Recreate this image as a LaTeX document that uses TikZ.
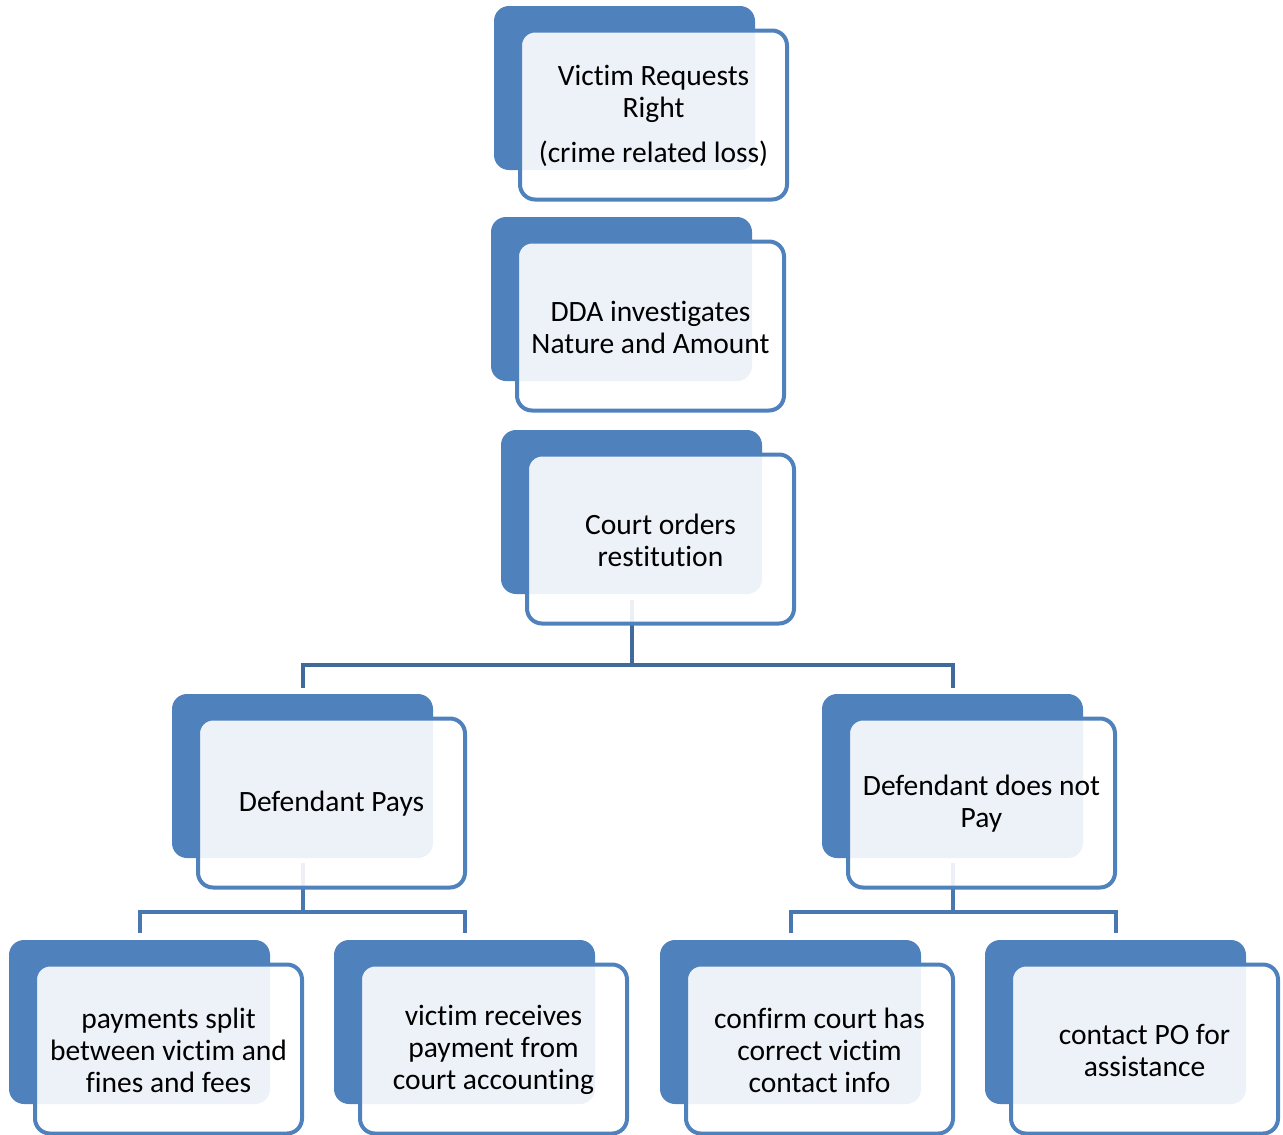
\documentclass[tikz,border=0pt]{standalone}
\usepackage{fontspec}
\setmainfont{Carlito}[Ligatures=NoCommon]
\definecolor{acc}{HTML}{4F81BD}
\definecolor{connA}{HTML}{41699C}
\definecolor{connB}{HTML}{4977B1}
\pgfdeclarelayer{bg}
\pgfsetlayers{bg,main}
\tikzset{
  backbox/.style={fill=acc, rounded corners=15pt, minimum width=261pt, minimum height=164pt, inner sep=0pt, outer sep=0pt},
  frontbox/.style={draw=acc, line width=4pt, fill=white, fill opacity=0.9, rounded corners=15pt, minimum width=267pt, minimum height=169pt, inner sep=0pt, outer sep=0pt},
  lbl/.style={font=\fontsize{29.5}{32}\selectfont, align=center, text=black, inner sep=0pt},
  connone/.style={draw=connA, line width=4pt},
  conntwo/.style={draw=connB, line width=4pt}
}
\newcommand\mycard[4]{%
  \node[backbox] (#1b) at ({#2+130.5},{#3+82}) {};
  \node[frontbox] (#1f) at ({#2+159.5},{#3+109}) {};
  \node[lbl] (#1t) at ([yshift=-1pt]#1f.center) {#4};
}
\begin{document}
\begin{tikzpicture}[x=1pt,y=-1pt]
\useasboundingbox (0,0) rectangle (1283,1135);
\mycard{a}{494}{6}{Victim Requests\\Right\\[13pt](crime related loss)}
\mycard{b}{491}{217}{DDA investigates\\Nature and Amount}
\mycard{c}{501}{430}{Court orders\\restitution}
\mycard{d}{172}{694}{Defendant Pays}
\mycard{e}{822}{694}{Defendant does not\\Pay}
\mycard{f}{9}{940}{payments split\\between victim and\\fines and fees}
\mycard{g}{334}{940}{victim receives\\payment from\\court accounting}
\mycard{h}{660}{940}{confirm court has\\correct victim\\contact info}
\mycard{i}{985}{940}{contact PO for\\assistance}
\begin{pgfonlayer}{bg}
  \draw[connone] ([yshift=-6pt]cb.south) -- ++(0,65);
  \draw[connone] ([yshift=6pt]db.north) -- ++(0,-23) -| ([yshift=6pt]eb.north);
  \draw[conntwo] ([yshift=-5pt]db.south) -- ++(0,50);
  \draw[conntwo] ([yshift=7pt]fb.north) -- ++(0,-21) -| ([yshift=7pt]gb.north);
  \draw[conntwo] ([yshift=-5pt]eb.south) -- ++(0,50);
  \draw[conntwo] ([yshift=7pt]hb.north) -- ++(0,-21) -| ([yshift=7pt]ib.north);
\end{pgfonlayer}
\end{tikzpicture}
\end{document}
